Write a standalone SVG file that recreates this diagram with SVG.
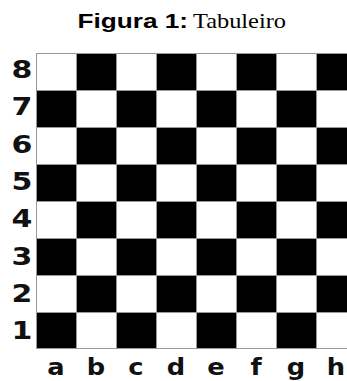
<svg xmlns="http://www.w3.org/2000/svg" width="347" height="381" viewBox="0 0 347 381">
<style>
.b{fill:#000}
.g{stroke:#999;stroke-width:1;fill:none}
.n{font-family:"DejaVu Sans",Verdana,sans-serif;font-weight:bold;font-size:24px;text-anchor:middle;fill:#111}
.l{font-family:"DejaVu Sans",Verdana,sans-serif;font-weight:bold;font-size:23px;text-anchor:middle;fill:#111}
.t1{font-family:"Liberation Sans",Arial,sans-serif;font-weight:bold;font-size:20.5px;fill:#000}
.t2{font-family:"Liberation Serif","Times New Roman",serif;font-size:22px;fill:#000}
</style>
<rect width="347" height="381" fill="#fff"/>
<g id="title">
<text class="t1" x="77.5" y="27.5" textLength="110.5" lengthAdjust="spacingAndGlyphs">Figura 1:</text>
<text class="t2" x="193" y="27.5" textLength="93" lengthAdjust="spacingAndGlyphs">Tabuleiro</text>
</g>
<g id="board">
<rect class="b" x="76" y="53" width="40" height="37"/><rect class="b" x="156" y="53" width="40" height="37"/><rect class="b" x="236" y="53" width="40" height="37"/><rect class="b" x="316" y="53" width="40" height="37"/>
<rect class="b" x="36" y="90" width="40" height="37"/><rect class="b" x="116" y="90" width="40" height="37"/><rect class="b" x="196" y="90" width="40" height="37"/><rect class="b" x="276" y="90" width="40" height="37"/>
<rect class="b" x="76" y="127" width="40" height="37"/><rect class="b" x="156" y="127" width="40" height="37"/><rect class="b" x="236" y="127" width="40" height="37"/><rect class="b" x="316" y="127" width="40" height="37"/>
<rect class="b" x="36" y="164" width="40" height="37"/><rect class="b" x="116" y="164" width="40" height="37"/><rect class="b" x="196" y="164" width="40" height="37"/><rect class="b" x="276" y="164" width="40" height="37"/>
<rect class="b" x="76" y="201" width="40" height="37"/><rect class="b" x="156" y="201" width="40" height="37"/><rect class="b" x="236" y="201" width="40" height="37"/><rect class="b" x="316" y="201" width="40" height="37"/>
<rect class="b" x="36" y="238" width="40" height="37"/><rect class="b" x="116" y="238" width="40" height="37"/><rect class="b" x="196" y="238" width="40" height="37"/><rect class="b" x="276" y="238" width="40" height="37"/>
<rect class="b" x="76" y="275" width="40" height="37"/><rect class="b" x="156" y="275" width="40" height="37"/><rect class="b" x="236" y="275" width="40" height="37"/><rect class="b" x="316" y="275" width="40" height="37"/>
<rect class="b" x="36" y="312" width="40" height="37"/><rect class="b" x="116" y="312" width="40" height="37"/><rect class="b" x="196" y="312" width="40" height="37"/><rect class="b" x="276" y="312" width="40" height="37"/>
<path class="g" d="M36.5 53V349M76.5 53V349M116.5 53V349M156.5 53V349M196.5 53V349M236.5 53V349M276.5 53V349M316.5 53V349M36 53.5H347M36 90.5H347M36 127.5H347M36 164.5H347M36 201.5H347M36 238.5H347M36 275.5H347M36 312.5H347M36 348.5H347"/>
</g>
<g id="ranks">
<text class="n" transform="translate(22,78) scale(1.25,1)">8</text>
<text class="n" transform="translate(22,115.3) scale(1.25,1)">7</text>
<text class="n" transform="translate(22,152.6) scale(1.25,1)">6</text>
<text class="n" transform="translate(22,189.9) scale(1.25,1)">5</text>
<text class="n" transform="translate(22,227.2) scale(1.25,1)">4</text>
<text class="n" transform="translate(22,264.5) scale(1.25,1)">3</text>
<text class="n" transform="translate(22,301.8) scale(1.25,1)">2</text>
<text class="n" transform="translate(22,339) scale(1.25,1)">1</text>
</g>
<g id="files">
<text class="l" transform="translate(56,375) scale(1.12,1)">a</text>
<text class="l" transform="translate(96,375) scale(1.12,1)">b</text>
<text class="l" transform="translate(136,375) scale(1.12,1)">c</text>
<text class="l" transform="translate(176,375) scale(1.12,1)">d</text>
<text class="l" transform="translate(216,375) scale(1.12,1)">e</text>
<text class="l" transform="translate(256,375) scale(1.12,1)">f</text>
<text class="l" transform="translate(296,375) scale(1.12,1)">g</text>
<text class="l" transform="translate(336,375) scale(1.12,1)">h</text>
</g>
</svg>
